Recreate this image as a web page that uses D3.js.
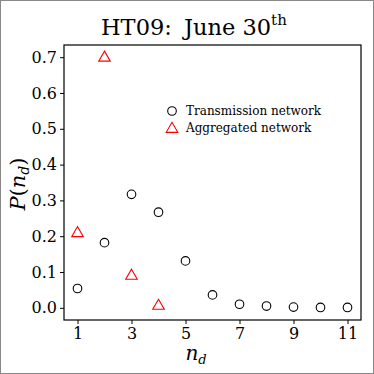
<!DOCTYPE html>
<html><head><meta charset="utf-8">
<script src="https://cdn.jsdelivr.net/npm/d3@7"></script>
<style>
html,body{margin:0;padding:0;background:#fff;}
svg{display:block;}
text{font-family:"DejaVu Serif","Liberation Serif",serif;}
</style></head>
<body>
<script>
const xTransmission = [1,2,3,4,5,6,7,8,9,10,11];
const yTransmission = [0.054,0.182,0.317,0.267,0.131,0.036,0.010,0.005,0.002,0.001,0.001];
const xAggregated = [1,2,3,4];
const yAggregated = [0.211,0.701,0.092,0.008];
const xTicks = [1,3,5,7,9,11];
const yTicks = [0.0,0.1,0.2,0.3,0.4,0.5,0.6,0.7];
const legendLabels = ["Transmission network","Aggregated network"];

const W = 374, H = 374;
const m = {left:64, top:45, right:361, bottom:320};
const svg = d3.select("body").append("svg").attr("width",W).attr("height",H);
svg.append("rect").attr("x",0.5).attr("y",0.5).attr("width",W-1).attr("height",H-1)
  .attr("fill","#fff").attr("stroke","#888").attr("stroke-width",1);

const x = d3.scaleLinear().domain([0.5,11.5]).range([m.left,m.right]);
const y = d3.scaleLinear().domain([-0.034,0.734]).range([m.bottom,m.top]);

const fmt = d3.format(".1f");
const xAxis = svg.append("g").attr("transform",`translate(0,${m.bottom})`)
  .call(d3.axisBottom(x).tickValues(xTicks).tickSize(4).tickPadding(4).tickFormat(d3.format("d")));
const yAxis = svg.append("g").attr("transform",`translate(${m.left},0)`)
  .call(d3.axisLeft(y).tickValues(yTicks).tickSize(4).tickPadding(3).tickFormat(fmt));
[xAxis,yAxis].forEach(a=>{
  a.select(".domain").remove();
  a.selectAll("text").attr("font-size",16).attr("fill","#000").style("font-family","'DejaVu Serif',serif");
  a.selectAll("line").attr("stroke","#000");
});
svg.append("rect").attr("x",m.left).attr("y",m.top).attr("width",m.right-m.left).attr("height",m.bottom-m.top)
  .attr("fill","none").attr("stroke","#000").attr("stroke-width",1.2);

// transmission circles
svg.append("g").selectAll("circle").data(xTransmission.map((d,i)=>[d,yTransmission[i]]))
  .join("circle").attr("cx",d=>x(d[0])).attr("cy",d=>y(d[1])).attr("r",4.3)
  .attr("fill","none").attr("stroke","#000").attr("stroke-width",1.1);

const tri = d3.symbol().type(d3.symbolTriangle).size(58);
svg.append("g").selectAll("path").data(xAggregated.map((d,i)=>[d,yAggregated[i]]))
  .join("path").attr("d",tri).attr("transform",d=>`translate(${x(d[0])},${y(d[1])+1})`)
  .attr("fill","none").attr("stroke","#ff0000").attr("stroke-width",1.1);

// legend
const lg = svg.append("g");
lg.append("circle").attr("cx",172).attr("cy",111).attr("r",4.3).attr("fill","none").attr("stroke","#000").attr("stroke-width",1.1);
lg.append("path").attr("d",tri).attr("transform","translate(172,129)").attr("fill","none").attr("stroke","#ff0000").attr("stroke-width",1.1);
lg.selectAll("text").data(legendLabels).join("text")
  .attr("x",186).attr("y",(d,i)=>115+i*17).attr("font-size",12).attr("fill","#000").text(d=>d);

// title
const t = svg.append("text").attr("x",101).attr("y",35).attr("text-anchor","start")
  .attr("font-size",22.5).attr("fill","#000");
t.append("tspan").text("HT09:");
t.append("tspan").attr("dx",5).text(" June 30");
t.append("tspan").attr("font-size",15).attr("dy",-10).text("th");

// axis labels
const xl = svg.append("text").attr("x",196).attr("y",360).attr("text-anchor","middle")
  .attr("font-size",20).attr("font-style","italic").attr("fill","#000");
xl.append("tspan").text("n");
xl.append("tspan").attr("font-size",13).attr("dy",4).text("d");

const yl = svg.append("text").attr("transform","translate(25,184) rotate(-90)").attr("text-anchor","middle")
  .attr("font-size",21).attr("fill","#000");
yl.append("tspan").attr("font-style","italic").text("P");
yl.append("tspan").text("(");
yl.append("tspan").attr("font-style","italic").text("n");
yl.append("tspan").attr("font-style","italic").attr("font-size",14).attr("dy",4).text("d");
yl.append("tspan").attr("dy",-4).text(")");
</script>
</body></html>
